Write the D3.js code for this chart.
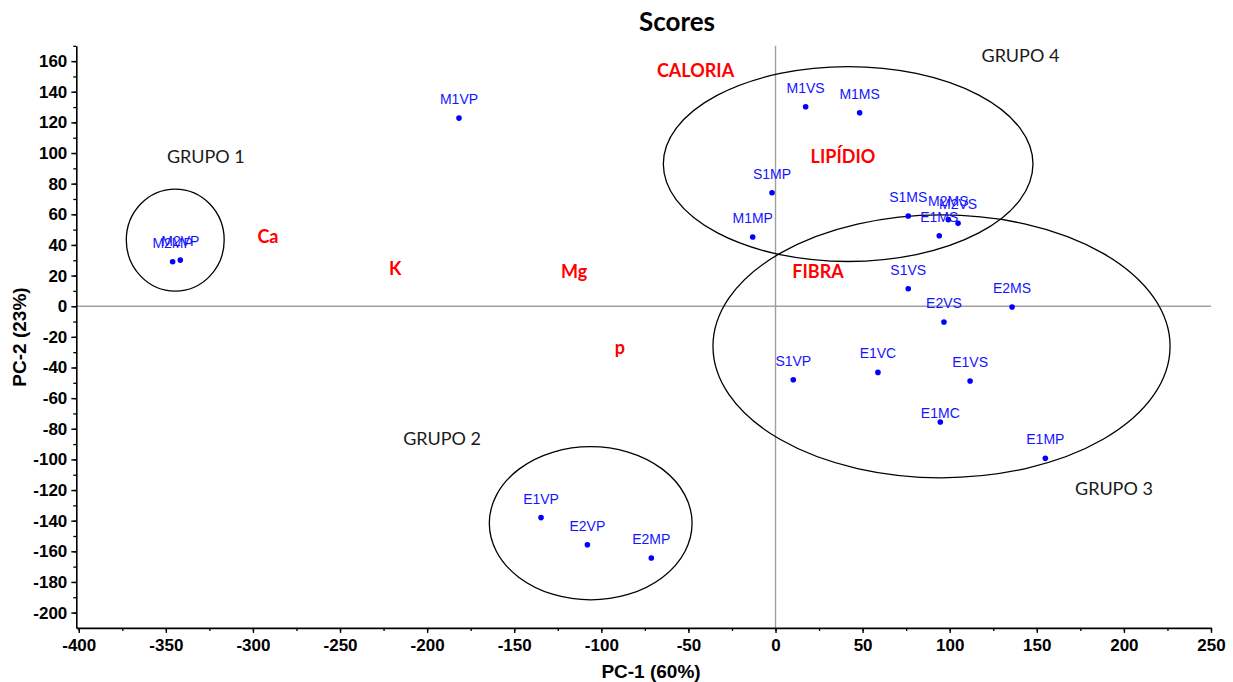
<!DOCTYPE html>
<html>
<head>
<meta charset="utf-8">
<script src="https://cdn.jsdelivr.net/npm/d3@7"></script>
<style>
  html, body { margin: 0; padding: 0; background: #fff; }
  svg { display: block; }
</style>
</head>
<body>
<svg id="chart" width="1233" height="682"></svg>
<script>
// PCA scores: sample codes and their PC-1 / PC-2 coordinates
const sampleNames = ["M1VP", "M2MP", "M2VP", "M1VS", "M1MS", "S1MP", "M1MP", "S1MS", "M2MS", "M2VS",
                     "E1MS", "S1VS", "E2MS", "E2VS", "S1VP", "E1VC", "E1VS", "E1MC", "E1MP",
                     "E1VP", "E2VP", "E2MP"];
const samplePC1 = [-181.7, -346.1, -341.7, 17.3, 48.3, -2.0, -13.1, 76.2, 99.2, 104.8,
                   94.0, 76.2, 135.8, 96.7, 10.2, 58.8, 111.7, 94.6, 154.9,
                   -134.6, -108.0, -71.3];
const samplePC2 = [122.8, 29.0, 30.1, 130.2, 126.3, 74.1, 45.2, 58.9, 56.5, 54.1,
                   46.0, 11.4, -0.5, -10.3, -48.0, -43.2, -48.8, -75.6, -99.3,
                   -138.0, -155.7, -164.4];

// Variable names shown in red at their loading positions
const variableNames = ["CALORIA", "LIPÍDIO", "FIBRA", "Ca", "K", "Mg", "p"];
const variablePC1 = [-45.9, 38.7, 24.4, -291.4, -218.3, -115.6, -89.3];
const variablePC2 = [149.8, 93.3, 18.2, 41.1, 20.4, 18.2, -31.4];

// Group ellipses (centre and semi-axes in score units) and their captions
const groupNames = ["GRUPO 1", "GRUPO 2", "GRUPO 3", "GRUPO 4"];
const groupCenterPC1 = [-344.6, -106.1, 95.3, 41.7];
const groupCenterPC2 = [43.2, -141.7, -26.2, 92.8];
const groupRadiusPC1 = [28.1, 58.2, 131.2, 106.1];
const groupRadiusPC2 = [33.3, 50.0, 85.8, 63.6];
const groupCaptionPC1 = [-327.0, -191.4, 194.3, 140.6];
const groupCaptionPC2 = [93.7, -90.6, -123.2, 159.2];

// Axis ticks
const xTicks = d3.range(-400, 251, 50);
const yTicks = d3.range(-200, 161, 20);
const xMinorTicks = d3.range(-400, 251, 25);
const yMinorTicks = d3.range(-200, 171, 10);

// ---- drawing ----
const svg = d3.select("#chart");
const plotLeft = 76.3, plotRight = 1211, plotTop = 45.8, plotBottom = 627.9;

const x = d3.scaleLinear().domain([-401.4, 250]).range([plotLeft, plotRight]);
const y = d3.scaleLinear().domain([-210, 170]).range([plotBottom, plotTop]);

const tickFont = "'Liberation Sans', Arial, sans-serif";
const calibriLike = "Lato, 'Open Sans', sans-serif";
const fmt = v => String(v);

// zero reference lines
svg.append("line")
  .attr("x1", x(-401.4)).attr("x2", x(250))
  .attr("y1", y(0)).attr("y2", y(0))
  .attr("stroke", "#a0a0a0").attr("stroke-width", 1.4);
svg.append("line")
  .attr("x1", x(0)).attr("x2", x(0))
  .attr("y1", y(170)).attr("y2", y(-210))
  .attr("stroke", "#a0a0a0").attr("stroke-width", 1.4);

// minor ticks
const xMinor = d3.axisBottom(x).tickValues(xMinorTicks).tickSize(3).tickFormat("");
const yMinor = d3.axisLeft(y).tickValues(yMinorTicks).tickSize(3).tickFormat("");
svg.append("g").attr("transform", `translate(0,${plotBottom})`).call(xMinor)
  .call(g => g.select(".domain").remove())
  .selectAll("line").attr("stroke", "#000").attr("stroke-width", 1.3);
svg.append("g").attr("transform", `translate(${plotLeft},0)`).call(yMinor)
  .call(g => g.select(".domain").remove())
  .selectAll("line").attr("stroke", "#000").attr("stroke-width", 1.3);

// major axes
const xAxis = d3.axisBottom(x).tickValues(xTicks).tickSize(5).tickSizeOuter(0).tickPadding(6).tickFormat(fmt);
const yAxis = d3.axisLeft(y).tickValues(yTicks).tickSize(5).tickSizeOuter(0).tickPadding(4).tickFormat(fmt);

const gx = svg.append("g").attr("transform", `translate(0,${plotBottom})`).call(xAxis);
gx.select(".domain").attr("stroke", "#000").attr("stroke-width", 1.6);
gx.selectAll(".tick line").attr("stroke", "#000").attr("stroke-width", 1.4);
gx.selectAll(".tick text")
  .attr("font-family", tickFont).attr("font-weight", "bold").attr("font-size", 17)
  .attr("fill", "#000");

const gy = svg.append("g").attr("transform", `translate(${plotLeft},0)`).call(yAxis);
gy.select(".domain").attr("stroke", "#000").attr("stroke-width", 1.6);
gy.selectAll(".tick line").attr("stroke", "#000").attr("stroke-width", 1.4);
gy.selectAll(".tick text")
  .attr("font-family", tickFont).attr("font-weight", "bold").attr("font-size", 17)
  .attr("fill", "#000");

// axis titles
svg.append("text")
  .attr("x", 651).attr("y", 678)
  .attr("text-anchor", "middle")
  .attr("font-family", tickFont).attr("font-weight", "bold").attr("font-size", 19)
  .text("PC-1 (60%)");
svg.append("text")
  .attr("transform", "translate(26,337) rotate(-90)")
  .attr("text-anchor", "middle")
  .attr("font-family", tickFont).attr("font-weight", "bold").attr("font-size", 19)
  .text("PC-2 (23%)");

// chart title
svg.append("text")
  .attr("x", 677).attr("y", 31)
  .attr("text-anchor", "middle")
  .attr("font-family", calibriLike).attr("font-weight", "bold").attr("font-size", 26)
  .text("Scores");

// group ellipses
const groups = groupNames.map((name, i) => ({
  name,
  cx: groupCenterPC1[i], cy: groupCenterPC2[i],
  rx: groupRadiusPC1[i], ry: groupRadiusPC2[i],
  lx: groupCaptionPC1[i], ly: groupCaptionPC2[i]
}));

svg.append("g").selectAll("ellipse").data(groups).join("ellipse")
  .attr("cx", d => x(d.cx)).attr("cy", d => y(d.cy))
  .attr("rx", d => x(d.cx + d.rx) - x(d.cx))
  .attr("ry", d => y(d.cy - d.ry) - y(d.cy))
  .attr("fill", "none").attr("stroke", "#000").attr("stroke-width", 1.3);

svg.append("g").selectAll("text").data(groups).join("text")
  .attr("x", d => x(d.lx)).attr("y", d => y(d.ly))
  .attr("text-anchor", "middle")
  .attr("font-family", calibriLike).attr("font-size", 18).attr("fill", "#1a1a1a")
  .text(d => d.name);

// variable names (loadings)
const variables = variableNames.map((name, i) => ({ name, px: variablePC1[i], py: variablePC2[i] }));
svg.append("g").selectAll("text").data(variables).join("text")
  .attr("x", d => x(d.px)).attr("y", d => y(d.py))
  .attr("text-anchor", "middle")
  .attr("font-family", calibriLike).attr("font-weight", "bold").attr("font-size", 18)
  .attr("fill", "#ff0000")
  .text(d => d.name);

// sample scores
const samples = sampleNames.map((name, i) => ({ name, px: samplePC1[i], py: samplePC2[i] }));
const labelLift = { E1MC: 4 };

svg.append("g").selectAll("circle").data(samples).join("circle")
  .attr("cx", d => x(d.px)).attr("cy", d => y(d.py))
  .attr("r", 2.8).attr("fill", "#0000ff");

svg.append("g").selectAll("text").data(samples).join("text")
  .attr("x", d => x(d.px))
  .attr("y", d => y(d.py) - (labelLift[d.name] ?? 14))
  .attr("text-anchor", "middle")
  .attr("font-family", tickFont).attr("font-size", 14)
  .attr("fill", "#1414ff")
  .text(d => d.name);
</script>
</body>
</html>
